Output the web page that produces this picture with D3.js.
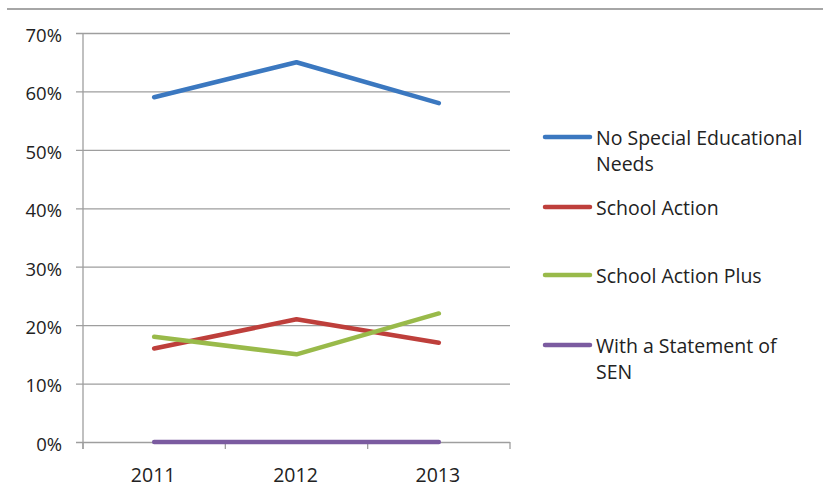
<!DOCTYPE html>
<html>
<head>
<meta charset="utf-8">
<script src="https://cdn.jsdelivr.net/npm/d3@7"></script>
<style>
  body { margin: 0; background: #fff; }
  svg text { font-family: "Open Sans", "Noto Sans", sans-serif; fill: #222; }
</style>
</head>
<body>
<svg id="chart" width="823" height="492"></svg>
<script>
const years = ['2011', '2012', '2013'];
const seriesNames = ['No Special Educational Needs', 'School Action', 'School Action Plus', 'With a Statement of SEN'];
const noSEN = [0.59, 0.65, 0.58];
const schoolAction = [0.16, 0.21, 0.17];
const schoolActionPlus = [0.18, 0.15, 0.22];
const statementSEN = [0, 0, 0];
const yTicks = [0, 0.1, 0.2, 0.3, 0.4, 0.5, 0.6, 0.7];
const colors = ['#3b78c0', '#be3f3b', '#99ba4a', '#7b5ba0'];

const svg = d3.select('#chart');
const margin = {top: 33, left: 83, right: 313, bottom: 50};
const [W, H] = [823, 492];

// thin rule across the top of the page
svg.append('line')
  .attr('x1', 7).attr('x2', W).attr('y1', 9).attr('y2', 9)
  .style('stroke', '#a6a6a6').style('stroke-width', 2);

const x = d3.scaleBand().domain(years).range([margin.left, W - margin.right]);
const y = d3.scaleLinear().domain([0, 0.7]).range([H - margin.bottom, margin.top]);

// gridlines + y axis
const yAxis = d3.axisLeft(y).tickValues(yTicks)
  .tickSize(-(W - margin.right - margin.left))
  .tickFormat(d3.format('.0%'));
const gy = svg.append('g').attr('transform', `translate(${margin.left},0)`).call(yAxis)
  .attr('font-size', null).attr('font-family', null);
gy.select('.domain').remove();
gy.selectAll('.tick line').attr('x1', -7).style('stroke', '#9e9e9e').style('stroke-width', 1.3);
gy.selectAll('.tick text').attr('x', -21).attr('dy', '0.45em')
  .attr('font-size', 18.5).style('font-size', '18.5px');

svg.append('line')
  .attr('x1', margin.left).attr('x2', margin.left)
  .attr('y1', margin.top).attr('y2', y(0) + 7)
  .style('stroke', '#9e9e9e').style('stroke-width', 1.3);

// x axis ticks between categories
const xb = [...years.map(d => x(d)), x(years[years.length - 1]) + x.bandwidth()];
svg.selectAll('line.xtick').data(xb).enter().append('line')
  .attr('class', 'xtick')
  .attr('x1', d => d).attr('x2', d => d)
  .attr('y1', y(0)).attr('y2', y(0) + 7)
  .style('stroke', '#9e9e9e').style('stroke-width', 1.3);

svg.selectAll('text.xlab').data(years).enter().append('text')
  .attr('class', 'xlab')
  .attr('x', d => x(d) + x.bandwidth() / 2 - 1)
  .attr('y', y(0) + 40)
  .style('text-anchor', 'middle')
  .style('font-size', '19.5px')
  .text(d => d);

const series = [noSEN, schoolAction, schoolActionPlus, statementSEN];
const line = d3.line()
  .x((d, i) => x(years[i]) + x.bandwidth() / 2)
  .y(d => y(d));

svg.selectAll('path.series').data(series).enter().append('path')
  .attr('class', 'series')
  .attr('d', d => line(d))
  .style('fill', 'none')
  .style('stroke', (d, i) => colors[i])
  .style('stroke-width', 4.5)
  .style('stroke-linecap', 'round')
  .style('stroke-linejoin', 'round');

// legend
const legendRows = [
  {lines: ['No Special Educational', 'Needs'], y: 137},
  {lines: ['School Action'], y: 207},
  {lines: ['School Action Plus'], y: 275},
  {lines: ['With a Statement of', 'SEN'], y: 345}
];
const lg = svg.selectAll('g.legend').data(legendRows).enter().append('g')
  .attr('class', 'legend')
  .attr('transform', d => `translate(545,${d.y})`);
lg.append('line')
  .attr('x1', 0).attr('x2', 45)
  .style('stroke', (d, i) => colors[i])
  .style('stroke-width', 4.5)
  .style('stroke-linecap', 'round');
lg.each(function(d) {
  const t = d3.select(this).append('text')
    .attr('x', 51).attr('y', 0)
    .style('font-size', '19.5px');
  d.lines.forEach((s, j) => {
    t.append('tspan').attr('x', 51).attr('dy', j === 0 ? '0.4em' : '1.35em').text(s);
  });
});
</script>
</body>
</html>
